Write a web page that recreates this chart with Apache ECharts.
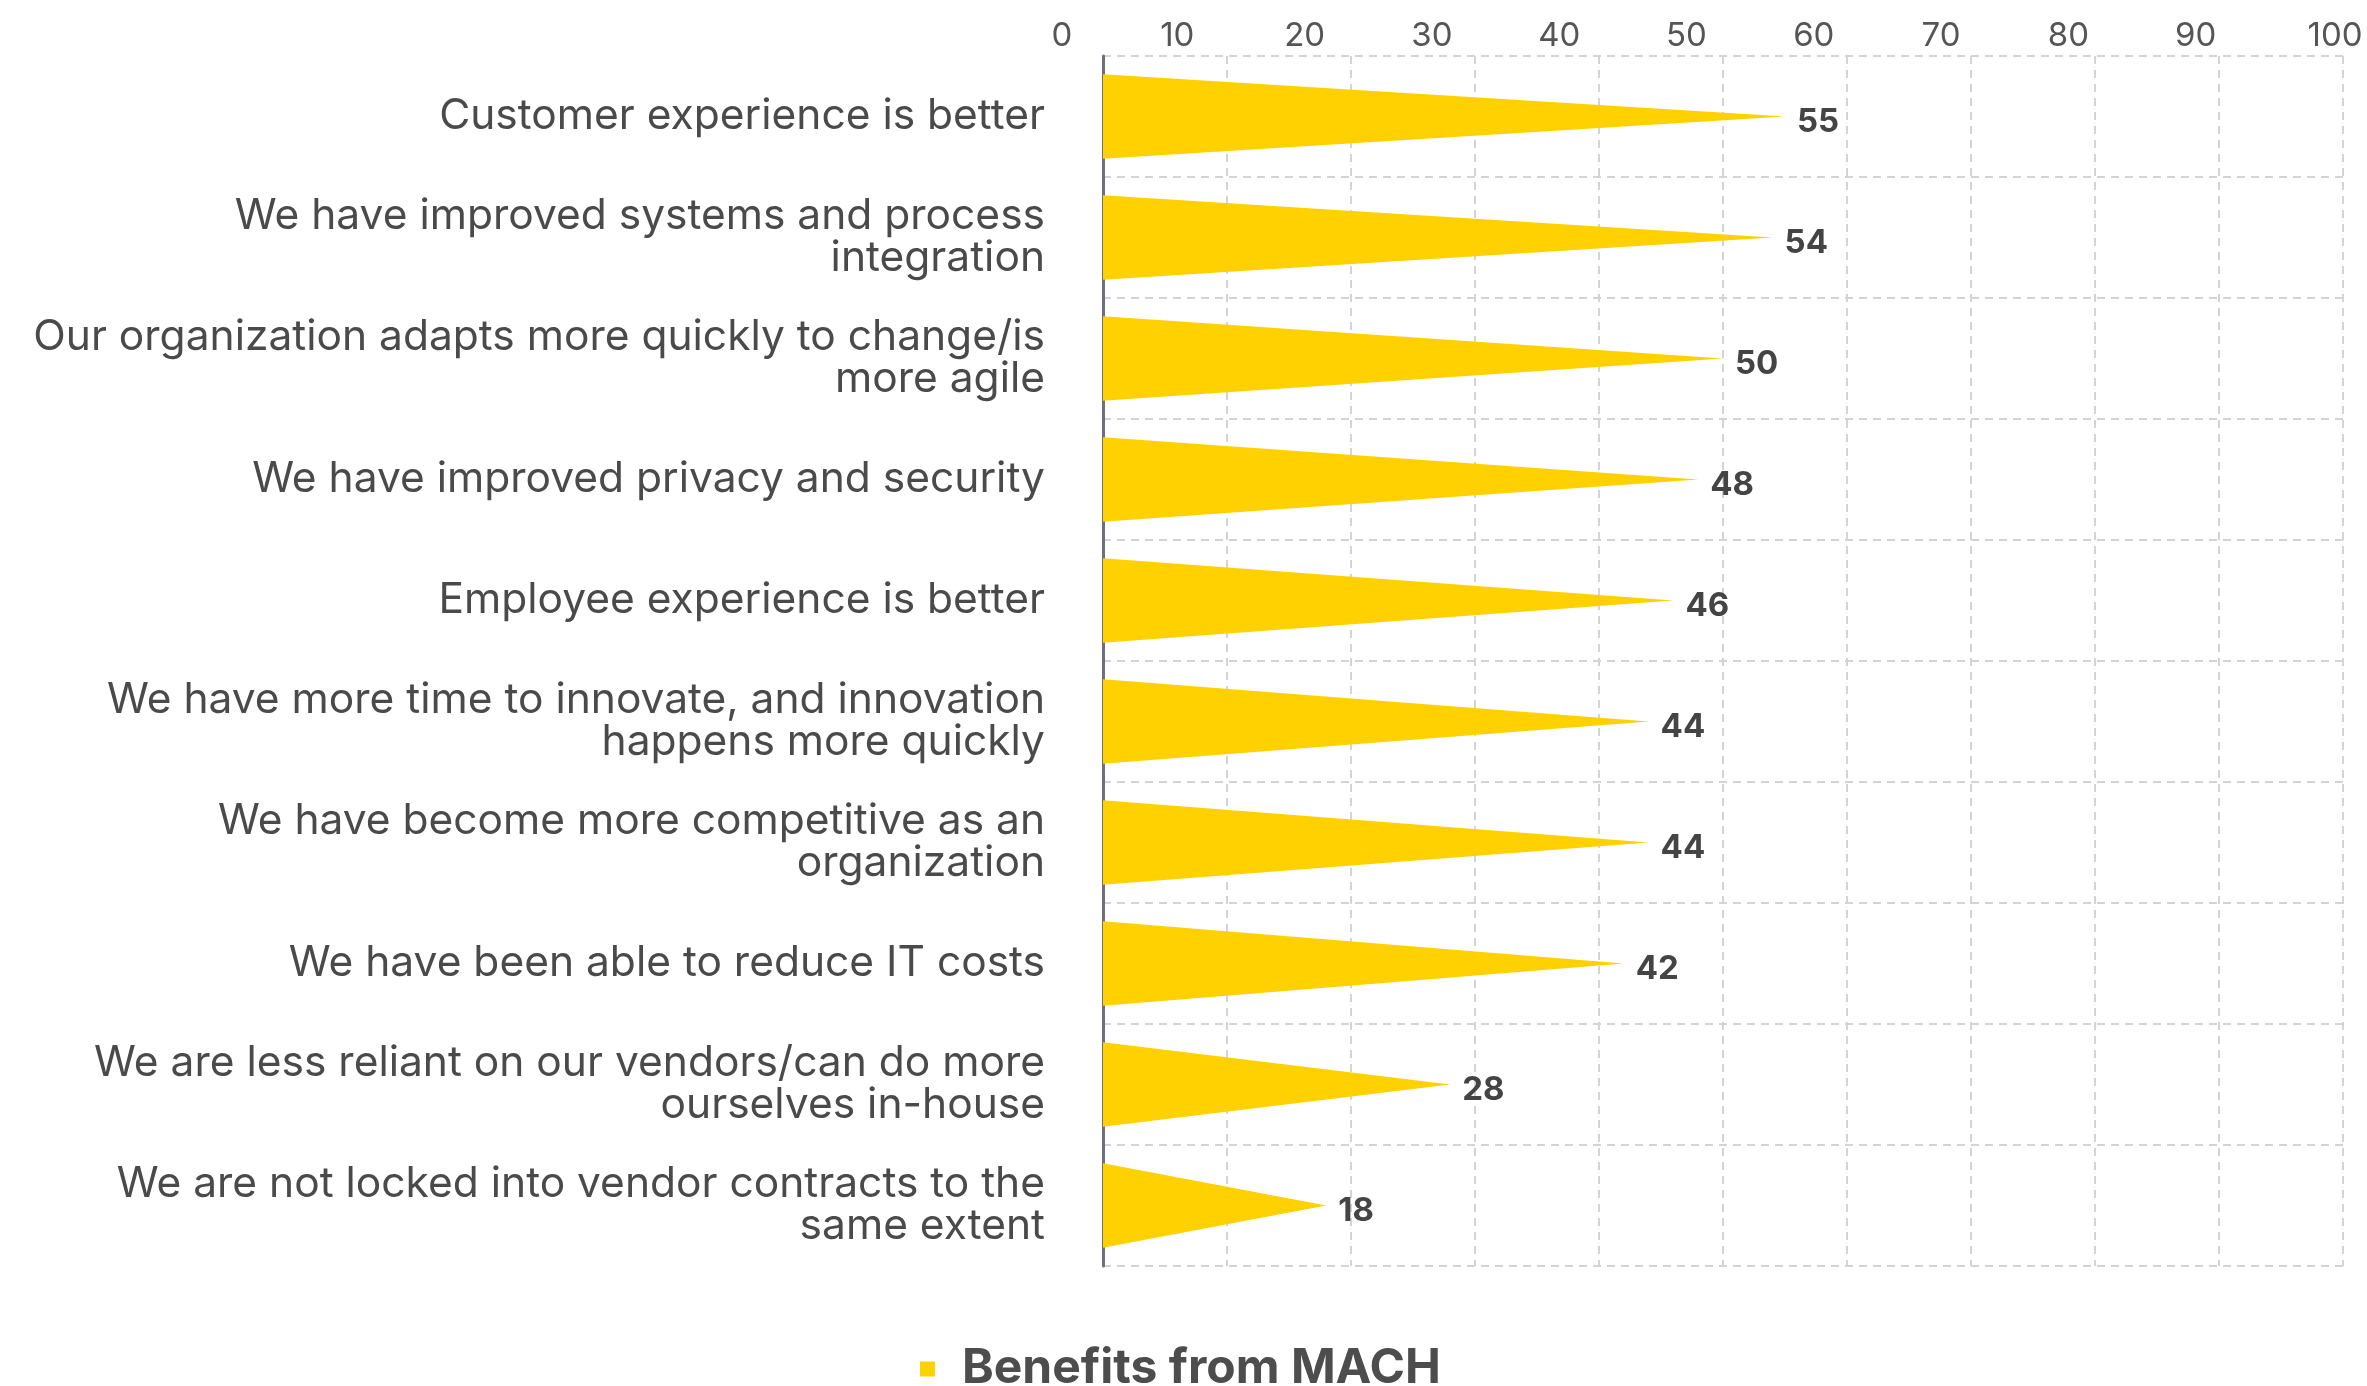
<!DOCTYPE html>
<html>
<head>
<meta charset="utf-8">
<script src="https://cdn.jsdelivr.net/npm/echarts@6/dist/echarts.min.js"></script>
<style>
  html, body { margin: 0; padding: 0; background: #fff; }
  #chart { width: 2367px; height: 1386px; }
</style>
</head>
<body>
<div id="chart"></div>
<script>
// categories, top to bottom
const categories = [
  'Customer experience is better',
  'We have improved systems and process\nintegration',
  'Our organization adapts more quickly to change/is\nmore agile',
  'We have improved privacy and security',
  'Employee experience is better',
  'We have more time to innovate, and innovation\nhappens more quickly',
  'We have become more competitive as an\norganization',
  'We have been able to reduce IT costs',
  'We are less reliant on our vendors/can do more\nourselves in-house',
  'We are not locked into vendor contracts to the\nsame extent'
]
const values = [55, 54, 50, 48, 46, 44, 44, 42, 28, 18]
const seriesName = 'Benefits from MACH'

const font = 'Inter, "Noto Sans", sans-serif'
const gridLine = { show: true, lineStyle: { color: '#d4d4d4', width: 2, type: [8, 6] } }

let chart = echarts.init(document.getElementById('chart'))

let option = {
  animation: false,
  legend: {
    data: [seriesName],
    left: 915,
    top: 1340,
    icon: 'rect',
    itemWidth: 15,
    itemHeight: 15,
    textStyle: {
      fontFamily: font,
      fontSize: 48,
      fontWeight: 'bold',
      color: '#4d4d4d',
      padding: [0, 0, 0, 22],
    },
  },
  grid: [
    { left: 1103, right: 24, top: 56, bottom: 120 },
    // the tick labels in the source sit on their own slightly wider scale
    { left: 1050, right: 44, top: 56, bottom: 120 },
  ],
  xAxis: [
    {
      type: 'value',
      gridIndex: 0,
      min: 0,
      max: 100,
      interval: 10,
      position: 'top',
      axisLine: { show: false },
      axisTick: { show: false },
      axisLabel: { show: false },
      splitLine: gridLine,
    },
    {
      type: 'value',
      gridIndex: 1,
      min: 0,
      max: 100,
      interval: 10,
      position: 'top',
      axisLine: { show: false },
      axisTick: { show: false },
      splitLine: { show: false },
      axisLabel: {
        margin: 3,
        fontFamily: font,
        fontSize: 33,
        color: '#555',
        // end labels are nudged right in the source
        formatter: (v) => (v === 0 || v === 100 ? '{e|' + v + '}' : '' + v),
        rich: {
          e: { fontFamily: font, fontSize: 33, color: '#555', padding: [0, 0, 0, 24] },
        },
      },
    },
  ],
  yAxis: [
    {
      type: 'category',
      gridIndex: 0,
      inverse: true,
      data: categories,
      axisTick: { show: false },
      axisLine: { show: true, lineStyle: { color: '#6e6e7e', width: 3 } },
      splitLine: gridLine,
      axisLabel: {
        margin: 58,
        fontFamily: font,
        fontSize: 42.5,
        lineHeight: 42,
        color: '#4a4a4a',
        padding: [12, 0, 0, 0],
      },
    },
    {
      type: 'category',
      gridIndex: 1,
      inverse: true,
      data: categories,
      show: false,
    },
  ],
  series: [
    {
      name: seriesName,
      type: 'pictorialBar',
      xAxisIndex: 0,
      yAxisIndex: 0,
      symbol: 'path://M0,0 L10,5 L0,10 Z',
      symbolSize: ['100%', '100%'],
      symbolPosition: 'start',
      barWidth: '70%',
      itemStyle: { color: '#FFD100' },
      label: {
        show: true,
        position: 'right',
        distance: 12,
        offset: [0, 6],
        fontFamily: font,
        fontSize: 33,
        fontWeight: 'bold',
        color: '#444',
      },
      data: values,
    },
  ],
}

chart.setOption(option)
</script>
</body>
</html>
